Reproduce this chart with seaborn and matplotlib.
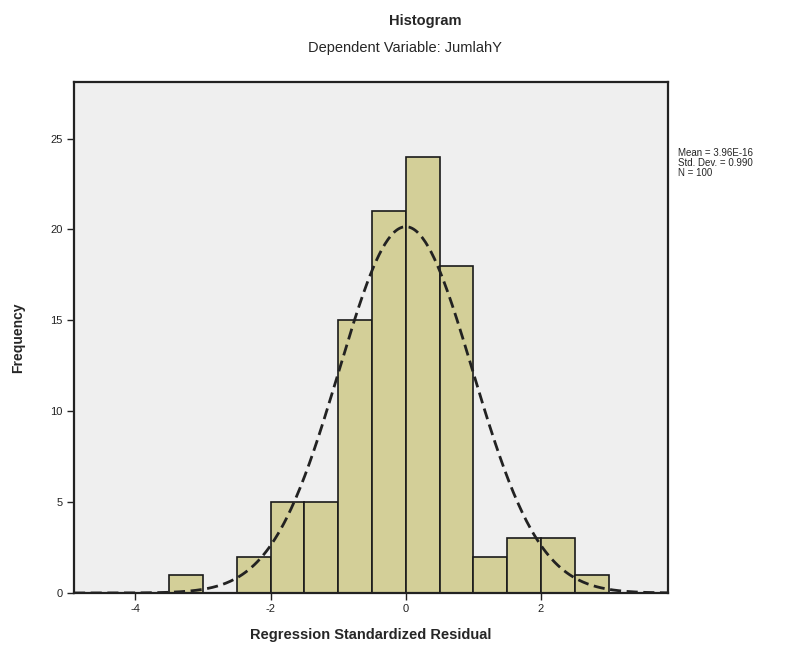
import matplotlib

matplotlib.use("Agg")
import matplotlib.pyplot as plt
import numpy as np
import pandas as pd
import seaborn as sns

# bin centres and counts (bin width 0.5)
bin_centers = [-3.25, -2.75, -2.25, -1.75, -1.25, -0.75, -0.25, 0.25, 0.75, 1.25, 1.75, 2.25, 2.75]
counts = [1, 0, 2, 5, 5, 15, 21, 24, 18, 2, 3, 3, 1]
bin_edges = [-3.5, -3.0, -2.5, -2.0, -1.5, -1.0, -0.5, 0.0, 0.5, 1.0, 1.5, 2.0, 2.5, 3.0]

# summary values shown beside the plot
mean_value = 0.0
std_value = 0.990
n_value = 100
stats_text = "Mean = 3.96E-16\nStd. Dev. = 0.990\nN = 100"

x_ticks = [-4, -2, 0, 2]
y_ticks = [0, 5, 10, 15, 20, 25]

df = pd.DataFrame({"residual": bin_centers, "count": counts})

sns.set_style("white")
plt.rcParams["font.family"] = ["Liberation Sans", "DejaVu Sans"]
plt.rcParams["axes.unicode_minus"] = False

fig = plt.figure(figsize=(8, 6.52), dpi=100)
ax = fig.add_axes([0.0925, 0.0905, 0.7425, 0.7835])
ax.set_facecolor("#efefef")

sns.histplot(
    data=df,
    x="residual",
    weights="count",
    bins=bin_edges,
    color="#d3cf98",
    alpha=1.0,
    edgecolor="#1a1a1a",
    linewidth=1.2,
    ax=ax,
)

# normal curve scaled to counts (mean, sd, N, bin width)
xs = np.linspace(-4.91, 3.88, 400)
bw = bin_edges[1] - bin_edges[0]
ys = n_value * bw / (std_value * np.sqrt(2 * np.pi)) * np.exp(-0.5 * ((xs - mean_value) / std_value) ** 2)
sns.lineplot(x=xs, y=ys, color="#222222", linestyle=(0, (4, 2)), linewidth=2, ax=ax)

ax.set_xlim(-4.91, 3.88)
ax.set_ylim(0, 28.1)
ax.set_xticks(x_ticks)
ax.set_yticks(y_ticks)
ax.tick_params(axis="both", bottom=True, left=True, labelsize=8, length=5, width=1,
               direction="out", colors="#222222", pad=3)
for spine in ax.spines.values():
    spine.set_color("#222222")
    spine.set_linewidth(1.6)

ax.set_xlabel("Regression Standardized Residual", fontsize=10.5, fontweight="bold", labelpad=10)
ax.set_ylabel("Frequency", fontsize=10, fontweight="bold", labelpad=18)

fig.text(0.532, 0.968, "Histogram", ha="center", va="center", fontsize=10.5, fontweight="bold")
fig.text(0.506, 0.927, "Dependent Variable: JumlahY", ha="center", va="center", fontsize=10.5)
fig.text(0.847, 0.773, stats_text, ha="left", va="top", fontsize=7, linespacing=1.0)

fig.savefig("out.png", dpi=100)
